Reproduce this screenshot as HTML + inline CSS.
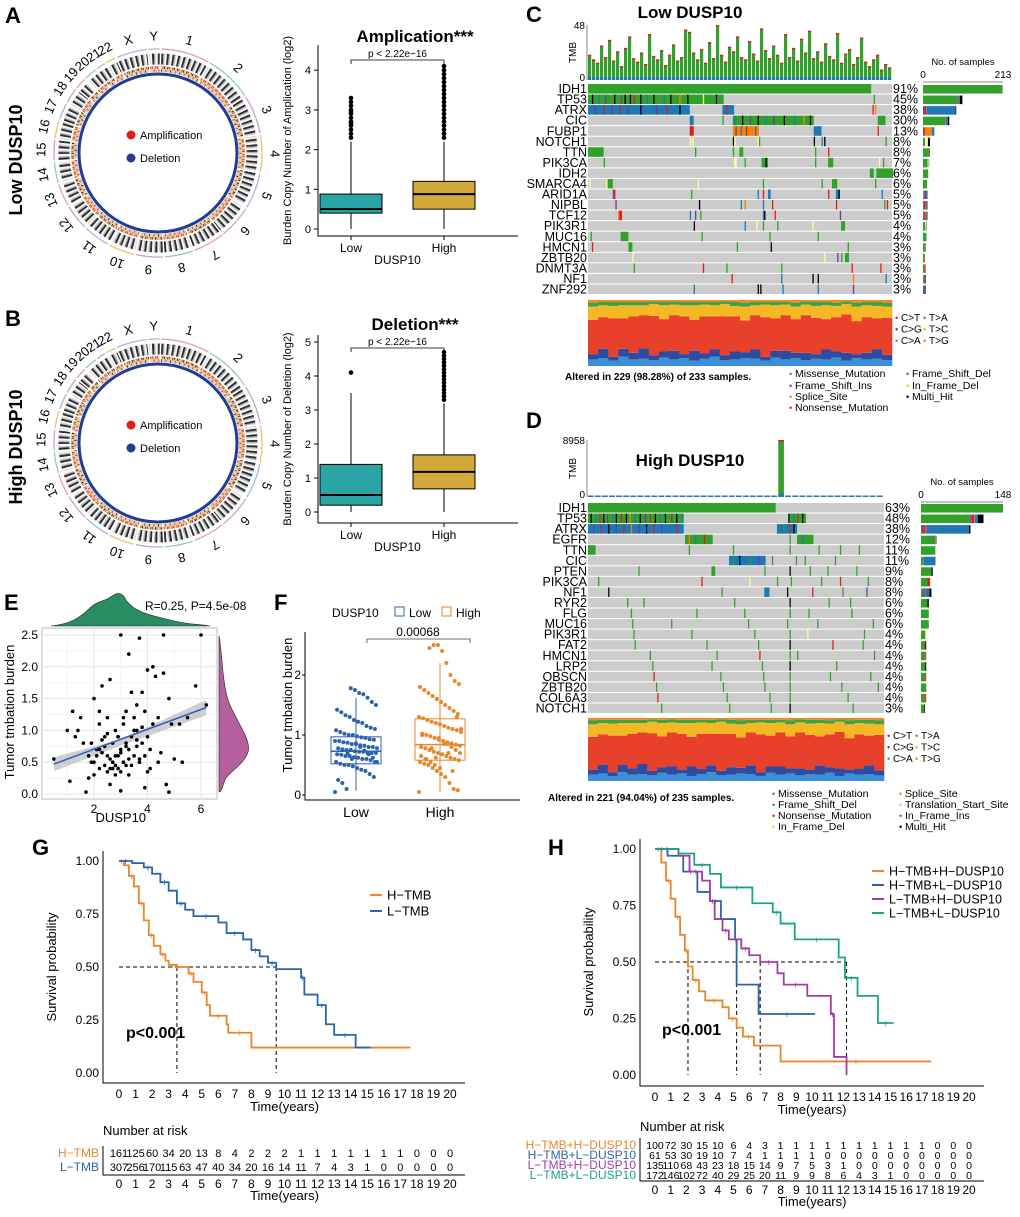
<!DOCTYPE html>
<html><head><meta charset="utf-8"><style>
html,body{margin:0;padding:0;background:#fff;}
svg{display:block;font-family:"Liberation Sans",Arial,sans-serif;}
</style></head><body>
<svg id="fig" width="1020" height="1217" viewBox="0 0 1020 1217" xmlns="http://www.w3.org/2000/svg"></svg>
<script>
// ================= DATA =================
const chrNames=['1','2','3','4','5','6','7','8','9','10','11','12','13','14','15','16','17','18','19','20','21','22','X','Y'];
const chrLen=[249,242,198,190,181,171,159,145,138,134,135,133,114,107,102,90,83,80,59,64,47,51,156,57];

const ampLowStats=[0,0.4,0.5,0.88,2.2];
const ampHighStats=[0,0.5,0.88,1.2,2.2];
const ampLowOut=[2.3,2.4,2.5,2.6,2.65,2.7,2.8,2.9,2.95,3.0,3.1,3.2,3.3];
const ampHighOut=[2.3,2.4,2.5,2.6,2.7,2.8,2.9,3.0,3.1,3.2,3.3,3.4,3.5,3.6,3.7,3.8,3.9,4.0,4.1];
const delLowStats=[0,0.2,0.5,1.4,3.5];
const delHighStats=[0,0.68,1.18,1.68,3.2];
const delLowOut=[4.1];
const delHighOut=[3.3,3.4,3.5,3.6,3.7,3.8,3.9,4.0,4.1,4.2,4.3,4.4,4.5,4.6,4.7];

const geneC=['IDH1','TP53','ATRX','CIC','FUBP1','NOTCH1','TTN','PIK3CA','IDH2','SMARCA4','ARID1A','NIPBL','TCF12','PIK3R1','MUC16','HMCN1','ZBTB20','DNMT3A','NF1','ZNF292'];
const pctC=[91,45,38,30,13,8,8,7,6,6,5,5,5,4,4,3,3,3,3,3];
const segC=['0-216M','0-103M,3H,8D,13I,20H,25I,28H,32H,35N,40H,45D,50H,58D,63H,70S,76H,88F,98H,219M','0-77D,5I,12N,18I,24N,30I,40H,52I,60N,70H,103-111D,106N,218N,220S','78-80D,103M,111-172M,112D,118H,124I,130H,136D,142I,150H,158D,165S,170H,222-227M','78-80N,111-130S,113I,117D,121I,125S,128D,173-178D,222N','78F,80F,111H,112F,130F,131M,173H,179D,181H,228M','0-11M,82M,111M,116-118M,174M,184N','12M,112-113F,120M,133-137M,136H,174M,184-187M,223F,226M','216-218M,221-233M','1F,14F,15-18M,84F,134M,179M,187-190M,220M','19I,20N,79M,130D,134N,138-139D,184N,190-191D,192H,225D','21I,85H,117D,120S,134D,141N,190N,227M,229N','23S,24-25N,78D,82I,86M,134D,135H,143N,193I','81H,120D,129F,134M,145M,172F,194-196M','2M,25-30M,87M,139M,176M','3N,31-33M,114M,140H,199M','34F,181F,191I,194M,197-199M','35M,88N,106M,148M,202N,224N','110N,148D,172H,176H,203S,228D','81D,130H,132H,149D,176D,203I'];
const tmbC=[22,18,15,30,20,35,17,25,12,28,38,19,16,24,14,40,21,18,26,13,22,31,17,20,44,42,24,18,27,15,33,19,48,22,16,29,25,38,20,18,34,23,17,45,26,19,30,22,15,40,20,28,17,36,24,43,19,25,16,32,21,18,41,15,23,27,14,20,37,16,12,18,22,9,14,11];
const geneD=['IDH1','TP53','ATRX','EGFR','TTN','CIC','PTEN','PIK3CA','NF1','RYR2','FLG','MUC16','PIK3R1','FAT2','HMCN1','LRP2','OBSCN','ZBTB20','COL6A3','NOTCH1'];
const pctD=[63,48,38,12,11,11,9,8,8,6,6,6,4,4,4,4,4,4,4,3];
const segD=['0-148M','0-75M,2H,6D,9N,12H,15I,19D,22H,26N,30H,33S,37D,41H,45I,49N,53H,57D,61H,66N,70H,74D,159H,160-172M,163D,166N,170H','0-75D,4I,10N,16H,22I,28N,34S,40I,46H,52N,58I,64D,70N,150-165D,155M,160N,163H','77-98M,80S,85D,92N,160M,166-178M,170D','0-5M,80M,115M,160M,183M,200M,215M','112-140D,115M,120H,128M,135I,146M,165M,172M,196M','40M,98-100M,140M,160H,176M,190M,213M','8M,90N,128F,150M,161M,185M,200N,222M','16H,106M,140-143D,158H,178N,202M,221I','31M,44M,116M,160H,191M,208M','34M,86M,124M,160M,175M,209M','35M,66M,127M,158M,182M,226M','36M,82M,132M,160M,174F,219M','37M,94M,135M,160H,194N,218M','49M,102M,136N,160M,166M,227M','51M,98M,138M,160H,197M','52N,105M,139M,160M,192M,224M','54M,107M,140M,160M,201M,230M','55N,110M,144M,160M,206M','58M,112M,145M,160H,210M'];
const tmbD=[60,40,90,30,70,50,110,80,40,60,30,120,55,45,70,90,35,60,40,80,100,50,60,45,70,30,55,8958,60,80,40,70,90,50,30,60,45,70,40,50,30,60];
const spCA=[.10,.12,.08,.14,.10,.11,.09,.13,.10,.12,.08,.11,.14,.09,.10,.12,.11,.08,.13,.10,.12,.09,.11,.10,.13,.08,.12,.10,.11,.09];
const spCG=[.08,.14,.06,.12,.10,.16,.07,.09,.13,.06,.15,.08,.11,.07,.12,.09,.14,.06,.10,.13,.08,.11,.07,.15,.09,.12,.06,.10,.14,.08];
const spCT=[.52,.48,.58,.46,.55,.50,.60,.49,.54,.57,.47,.56,.50,.59,.53,.48,.52,.60,.49,.54,.51,.57,.55,.46,.52,.58,.50,.54,.47,.56];
const spTC=[.20,.18,.19,.20,.17,.15,.18,.21,.16,.17,.22,.18,.17,.19,.16,.21,.15,.19,.20,.16,.19,.16,.18,.21,.17,.16,.22,.18,.19,.17];
const spTA=[.06,.05,.06,.05,.05,.05,.04,.05,.05,.05,.05,.04,.05,.04,.06,.06,.05,.04,.05,.04,.06,.05,.06,.05,.05,.04,.06,.05,.06,.06];

const scX=[0.5,1.2,1.0,1.3,1.5,1.7,1.8,1.9,2.0,2.0,2.1,2.2,2.2,2.3,2.3,2.4,2.4,2.5,2.5,2.5,2.6,2.6,2.7,2.7,2.8,2.8,2.8,2.9,2.9,3.0,3.0,3.0,3.1,3.1,3.2,3.2,3.2,3.3,3.3,3.4,3.4,3.5,3.5,3.6,3.6,3.7,3.7,3.8,3.8,3.9,3.9,4.0,4.0,4.1,4.1,4.2,4.3,4.4,4.5,4.6,4.7,4.8,4.9,5.0,5.2,5.5,5.8,6.0,6.2,2.1,2.4,2.6,2.9,3.1,3.3,3.5,3.7,2.0,2.3,2.7,3.0,3.4,3.8,1.6,1.9,2.2,2.5,2.8,3.2,3.6,4.0,4.4,1.4,1.8,2.9,3.0,3.9,4.6,2.6,3.3,1.1,4.2,4.8,5.3,3.5,2.2,2.7,3.1,3.6];
const scY=[0.55,1.3,1.0,0.9,1.2,0.03,0.6,0.8,0.5,1.5,0.7,0.4,1.1,0.65,1.7,0.45,0.9,0.35,1.2,0.6,0.55,1.8,0.5,0.8,0.3,0.45,1.0,0.6,0.4,2.5,0.7,0.35,0.5,1.1,0.45,0.8,1.3,0.55,0.3,0.9,1.6,0.6,1.2,0.75,1.4,0.5,2.45,0.8,1.6,0.6,1.3,0.9,1.95,0.4,0.7,2.0,1.85,1.2,0.65,1.9,0.15,1.5,1.1,0.55,1.1,1.2,1.7,2.5,1.4,0.6,0.75,0.4,0.9,0.5,0.7,1.0,0.55,0.3,0.85,0.5,0.65,0.45,1.05,0.8,0.5,0.7,0.95,0.6,0.75,0.85,0.35,0.5,1.0,0.25,0.9,0.05,0.1,2.5,0.15,2.2,0.2,1.1,0.03,0.5,1.0,1.3,0.4,1.2,1.0,0.65];

const tmbLow=[0.05,0.3,0.35,0.4,0.42,0.45,0.48,0.5,0.5,0.52,0.55,0.55,0.58,0.6,0.6,0.62,0.63,0.65,0.65,0.67,0.68,0.7,0.7,0.7,0.72,0.72,0.73,0.75,0.75,0.76,0.78,0.78,0.8,0.8,0.82,0.83,0.85,0.85,0.87,0.88,0.9,0.9,0.92,0.93,0.95,0.96,0.98,1.0,1.0,1.02,1.05,1.08,1.1,1.12,1.15,1.2,1.22,1.25,1.3,1.33,1.38,1.42,1.5,1.55,1.62,1.68,1.7,1.75,1.78,0.1,0.2,0.25,0.55,0.62,0.68,0.74,0.8,0.86,0.6,0.7];
const tmbHigh=[0.05,0.08,0.1,0.2,0.3,0.35,0.4,0.45,0.5,0.52,0.55,0.58,0.6,0.62,0.65,0.68,0.7,0.72,0.75,0.78,0.8,0.82,0.84,0.86,0.88,0.9,0.92,0.95,0.98,1.0,1.02,1.05,1.08,1.1,1.12,1.15,1.18,1.2,1.22,1.25,1.28,1.3,1.35,1.4,1.45,1.5,1.55,1.6,1.65,1.7,1.75,1.8,1.85,1.9,2.0,2.2,2.4,2.5,2.5,2.45,0.6,0.65,0.7,0.75,0.8,0.85,0.9,0.95,0.5,0.55,0.6,1.0,1.1,1.3,0.4,0.7,0.85,0.45,0.62,0.78];
const tmbLowStats=[0.07,0.52,0.73,0.97,1.62];
const tmbHighStats=[0.05,0.58,0.84,1.27,2.2];

const kmG_HT=[0,0.3,0.6,0.9,1.2,1.5,1.8,2.1,2.5,2.8,3.0,3.5,4.2,4.5,5.0,5.3,5.5,6.5,6.6,8.0,17.6];
const kmG_HS=[1,0.98,0.93,0.88,0.8,0.72,0.65,0.6,0.56,0.53,0.51,0.5,0.47,0.43,0.38,0.32,0.27,0.23,0.19,0.12,0.12];
const kmG_LT=[0,0.8,1.5,2.0,2.5,3.0,3.5,4.0,4.5,6.0,6.5,7.5,8.0,8.5,9.0,9.5,11.0,11.2,12.0,12.5,13.0,14.3,15.2];
const kmG_LS=[1,0.99,0.97,0.94,0.9,0.86,0.8,0.77,0.74,0.71,0.66,0.63,0.58,0.55,0.52,0.49,0.45,0.37,0.32,0.23,0.18,0.12,0.12];
const riskG_H=[161,125,60,34,20,13,8,4,2,2,2,1,1,1,1,1,1,1,0,0,0];
const riskG_L=[307,256,170,115,63,47,40,34,20,16,14,11,7,4,3,1,0,0,0,0,0];

const kmH1T=[0,0.4,0.7,1.0,1.3,1.6,1.9,2.1,2.4,2.8,3.2,4.3,4.7,5.2,5.6,6.3,8.0,17.6];
const kmH1S=[1,0.94,0.86,0.78,0.7,0.62,0.55,0.48,0.42,0.37,0.33,0.3,0.25,0.21,0.17,0.13,0.06,0.06];
const kmH2T=[0,0.8,1.8,2.7,3.5,4.2,5.1,5.2,6.6,10.2];
const kmH2S=[1,0.97,0.9,0.81,0.77,0.69,0.6,0.4,0.27,0.27];
const kmH3T=[0,1.5,2.2,3.0,3.5,3.8,4.3,4.7,5.5,6.0,6.7,7.8,8.2,9.7,11.2,11.4,12.2];
const kmH3S=[1,0.97,0.9,0.86,0.77,0.69,0.64,0.6,0.56,0.53,0.5,0.45,0.4,0.35,0.27,0.08,0];
const kmH4T=[0,1.5,2.5,3.5,4.2,6.2,7.5,8.0,8.9,11.7,12.1,12.9,14.2,15.2];
const kmH4S=[1,0.98,0.93,0.89,0.83,0.76,0.72,0.67,0.6,0.52,0.43,0.35,0.23,0.23];
const riskH1=[100,72,30,15,10,6,4,3,1,1,1,1,1,1,1,1,1,1,0,0,0];
const riskH2=[61,53,30,19,10,7,4,1,1,1,1,0,0,0,0,0,0,0,0,0,0];
const riskH3=[135,110,68,43,23,18,15,14,9,7,5,3,1,0,0,0,0,0,0,0,0];
const riskH4=[172,146,102,72,40,29,25,20,11,9,9,8,6,4,3,1,0,0,0,0,0];

// ================= HELPERS =================
const NS='http://www.w3.org/2000/svg';
const svg=document.getElementById('fig');
function mk(tag,a,p){const e=document.createElementNS(NS,tag);for(const k in a)e.setAttribute(k,a[k]);(p||svg).appendChild(e);return e;}
function tx(x,y,s,a,p){const e=mk('text',Object.assign({x:x,y:y},a||{}),p);e.textContent=s;return e;}
const COL={M:'#33a02c',D:'#1f78b4',I:'#6a3d9a',S:'#ff7f00',N:'#e31a1c',F:'#ffff99',H:'#000000'};

function panelLabel(x,y,s){const t=tx(x,y,s,{'font-size':22,'font-weight':'bold'});

}

// ================= CIRCOS =================
function circos(cx,cy,id){
  const g=mk('g',{});
  
  
  const tot=chrLen.reduce((a,b)=>a+b,0),gap=1.0,avail=360-gap*24;
  let a=2;const pal=['#e8a0a0','#8fcfa8','#c8a0d0','#f0c070','#a0b8e0','#d0a0c8'];
  function pt(r,ang){const t=(ang-90)*Math.PI/180;return [cx+r*Math.cos(t),cy+r*Math.sin(t)];}
  function arc(r,a0,a1,col,w){const p0=pt(r,a0),p1=pt(r,a1);const e=mk('path',{d:`M${p0[0]},${p0[1]}A${r},${r} 0 ${a1-a0>180?1:0} 1 ${p1[0]},${p1[1]}`,fill:'none',stroke:col,'stroke-width':w},g);return e;}
  const bl=mk('circle',{cx:cx,cy:cy,r:79,fill:'none',stroke:'#1f3c99','stroke-width':3},g);
  
  chrLen.forEach((L,i)=>{
    const span=L/tot*avail,a0=a,a1=a+span;
    const o=arc(104,a0,a1,pal[i%6],1.3);
    
    const nb=Math.max(4,Math.round(L/5));
    for(let b=0;b<nb;b++){
      const b0=a0+span*b/nb,b1=a0+span*(b+1)/nb;
      const k=(b*7+i*3)%6;const col=k<2?'#1a1a1a':(k==2?'#999':(k==3?'#d0d0d0':'#f4f4f4'));
      const e=arc(94,b0,b1,col,11);
      
    }
    const bt=arc(84,a0,a1,'#e0d0a8',6);
    
    for(let b=0;b<nb;b+=2){
      const b0=a0+span*b/nb,b1=a0+span*(b+1)/nb;
      const e=arc(((b+i)%3==0)?82.5:85.5,b0,b1,(b+i)%4==0?'#111':'#e52020',2.4);
      
    }
    const mid=(a0+a1)/2,lp=pt(116,mid);
    const t=tx(lp[0],lp[1],chrNames[i],{'font-size':13,'text-anchor':'middle','dominant-baseline':'middle',transform:`rotate(${mid},${lp[0]},${lp[1]})`},g);
    
    a=a1+gap;
  });
  const d1=mk('circle',{cx:cx-27,cy:cy-18,r:4.5,fill:'#e31a1c'},g);
  
  const l1=tx(cx-18,cy-14,'Amplification',{'font-size':11},g);
  
  const d2=mk('circle',{cx:cx-27,cy:cy+5,r:4.5,fill:'#1f3c99'},g);
  
  const l2=tx(cx-18,cy+9,'Deletion',{'font-size':11},g);
  
}

// ================= BOXPLOT (A,B) =================
function boxCN(o){
  const g=mk('g',{});
  
  
  const y=v=>o.y0-v*o.k;
  const ax=mk('path',{d:`M${o.xa},${o.yt}V${o.yb}H${o.xr}`,stroke:'#000',fill:'none','stroke-width':1},g);
  
  for(let v=0;v<=o.max;v++){
    const tk=mk('line',{x1:o.xa-4,x2:o.xa,y1:y(v),y2:y(v),stroke:'#000'},g);
    
    const tl=tx(o.xa-7,y(v)+4,String(v),{'font-size':11,'text-anchor':'end'},g);
    
  }
  [[o.low,o.lowOut,o.cx[0],'Low'],[o.high,o.highOut,o.cx[1],'High']].forEach(([s,out,c,lab])=>{
    const w=31;
    const wh=mk('line',{x1:c,x2:c,y1:y(s[0]),y2:y(s[4]),stroke:'#000'},g);
    
    const bx=mk('rect',{x:c-w,y:y(s[3]),width:2*w,height:y(s[1])-y(s[3]),fill:o.col[lab=='Low'?0:1],stroke:'#000'},g);
    
    const md=mk('line',{x1:c-w,x2:c+w,y1:y(s[2]),y2:y(s[2]),stroke:'#000','stroke-width':2},g);
    
    out.forEach(v=>{const p=mk('circle',{cx:c,cy:y(v),r:2.3,fill:'#000'},g);
      });
    const tk=mk('line',{x1:c,x2:c,y1:o.yb,y2:o.yb+4,stroke:'#000'},g);
    
    const tl=tx(c,o.yb+16,lab,{'font-size':12,'text-anchor':'middle'},g);
    
  });
  const xt=tx((o.cx[0]+o.cx[1])/2,o.yb+28,'DUSP10',{'font-size':12,'text-anchor':'middle'},g);
  
  const yt=tx(0,0,o.ytitle,{'font-size':11,'text-anchor':'middle',transform:`translate(${o.xa-27},${(o.yt+o.yb)/2}) rotate(-90)`},g);
  
  const tt=tx(415,o.titleY,o.title,{'font-size':17,'font-weight':'bold','text-anchor':'middle'},g);
  
  const br=mk('path',{d:`M${o.cx[0]},${o.titleY+22}v-4H${o.cx[1]}v4`,fill:'none',stroke:'#000','stroke-width':0.8},g);
  
  const pv=tx((o.cx[0]+o.cx[1])/2,o.titleY+15,'p < 2.22e\u221216',{'font-size':10,'text-anchor':'middle'},g);
  
}

// ================= ONCOPLOT =================
function oncoplot(o){
  const g=mk('g',{});
  
  
  const cw=(o.x1-o.x0)/o.ncol;
  const tt=tx(o.titleX,o.titleY,o.title,{'font-size':17,'font-weight':'bold','text-anchor':'middle'},g);
  
  const tmax=Math.max(...o.tmb);const bw=(o.x1-o.x0)/o.tmb.length;
  o.tmb.forEach((v,i)=>{
    const h=(o.tmbBot-o.tmbTop)*v/tmax;const hh=Math.max(h,1.5);
    const b=mk('rect',{x:o.x0+i*bw,y:o.tmbBot-hh,width:bw*0.8,height:hh,fill:'#33a02c'},g);
    
    const b2=mk('rect',{x:o.x0+i*bw,y:o.tmbBot-Math.min(hh,3),width:bw*0.8,height:Math.min(hh,3),fill:'#1f78b4'},g);
    
    if(h>6){const b3=mk('rect',{x:o.x0+i*bw,y:o.tmbBot-hh,width:bw*0.8,height:1.5,fill:'#e31a1c'},g);
    }
  });
  const ta=mk('line',{x1:o.x0-1,x2:o.x0-1,y1:o.tmbTop,y2:o.tmbBot,stroke:'#888'},g);
  
  const t1=tx(o.x0-3,o.tmbTop+4,String(o.tmbMaxLabel),{'font-size':10,'text-anchor':'end'},g);
  
  const t0=tx(o.x0-3,o.tmbBot+1,'0',{'font-size':10,'text-anchor':'end'},g);
  
  const tl=tx(0,0,'TMB',{'font-size':10,'text-anchor':'middle',transform:`translate(${o.x0-12},${(o.tmbTop+o.tmbBot)/2}) rotate(-90)`},g);
  
  o.genes.forEach((gn,r)=>{
    const yy=o.matTop+r*o.rowH;
    const bg=mk('rect',{x:o.x0,y:yy,width:o.x1-o.x0,height:o.rowH-1,fill:'#cccccc'},g);
    
    const counts={};
    o.segs[r].split(',').forEach(s=>{
      const m=s.match(/^(\d+)(?:-(\d+))?([A-Z])$/);const a=+m[1],b=m[2]?+m[2]:a,t=m[3];
      counts[t]=(counts[t]||0)+(b-a+1);
      const c=mk('rect',{x:o.x0+a*cw,y:yy,width:(b-a+1)*cw,height:o.rowH-1,fill:COL[t]},g);
      
    });
    const gl=tx(o.x0-1,yy+o.rowH-1.5,gn,{'font-size':12.5,'text-anchor':'end'},g);
    
    const pl=tx(o.x1+1,yy+o.rowH-1.5,o.pct[r]+'%',{'font-size':12.5},g);
    
    const n=o.pct[r]/100*o.ncol;const tot=Object.values(counts).reduce((a,b)=>a+b,0);
    let sx=o.sideX0;const full=(o.sideX1-o.sideX0)*n/o.sideMax;
    ['M','I','N','S','D','F','H'].forEach(t=>{if(!counts[t])return;const w=full*counts[t]/tot;
      const sb=mk('rect',{x:sx,y:yy+1,width:w,height:o.rowH-2,fill:COL[t]},g);
      sx+=w;});
  });
  const sa=mk('line',{x1:o.sideX0,x2:o.sideX1,y1:o.sideAxisY,y2:o.sideAxisY,stroke:'#888'},g);
  
  const s0=tx(o.sideX0,o.sideAxisY-4,'0',{'font-size':10,'text-anchor':'middle'},g);
  
  const s1=tx(o.sideX1,o.sideAxisY-4,String(o.sideMax),{'font-size':10,'text-anchor':'middle'},g);
  
  const st=tx((o.sideX0+o.sideX1)/2,o.sideAxisY-17,'No. of samples',{'font-size':9.5,'text-anchor':'middle'},g);
  
  const sw=(o.x1-o.x0)/spCT.length;const H=o.spBot-o.spTop;
  const layers=[[spCA,'#3a8fd6'],[spCG,'#2d4ca0'],[spCT,'#e8402a'],[spTC,'#f4b824'],[spTA,'#3aa34a']];
  for(let i=0;i<spCT.length;i++){
    let yb=o.spBot;
    layers.forEach(([arr,col])=>{const h=arr[i]*H;
      const r=mk('rect',{x:o.x0+i*sw,y:yb-h,width:sw+0.3,height:h,fill:col},g);
      yb-=h;});
    const rr=mk('rect',{x:o.x0+i*sw,y:o.spTop,width:sw+0.3,height:yb-o.spTop,fill:'#f08a1c'},g);
    
  }
  [['C>T','#e31a1c','T>A','#33a02c'],['C>G','#2d4ca0','T>C','#f4b824'],['C>A','#3a8fd6','T>G','#ff7f00']].forEach((row,i)=>{
    const yy=o.spTop+21+i*11.5;
    const a=tx(o.x1+3,yy,'\u2022',{'font-size':9,fill:row[1]},g);
    const b=tx(o.x1+9,yy,row[0],{'font-size':10},g);
    const c=tx(o.x1+31,yy,'\u2022',{'font-size':9,fill:row[3]},g);
    const d=tx(o.x1+37,yy,row[2],{'font-size':10},g);
  });
  const al=tx(o.altX,o.altY,o.altered,{'font-size':10,'font-weight':'bold'},g);
  
  o.legend.forEach(([x,y,lab,col])=>{
    const m=tx(x-6,y,'\u2022',{'font-size':9,fill:col},g);
    const t=tx(x,y,lab,{'font-size':10.5},g);
  });
}

// ================= SCATTER E =================
function scatterE(){
  const g=mk('g',{});
  
  
  const X=v=>40.5+v*26.75, Y=v=>794-v*63.6;
  const bg=mk('rect',{x:42,y:628,width:175,height:171,fill:'#fff',stroke:'#bbb'},g);
  
  for(let v=0;v<=2.5;v+=0.25){const l=mk('line',{x1:42,x2:217,y1:Y(v),y2:Y(v),stroke:(v*2)%1==0?'#e6e6e6':'#f3f3f3'},g);}
  for(let v=1;v<=6;v++){const l=mk('line',{x1:X(v),x2:X(v),y1:628,y2:799,stroke:v%2==0?'#e6e6e6':'#f3f3f3'},g);}
  const band=mk('path',{d:`M${X(0.5)},${Y(0.58)}L${X(3.0)},${Y(0.86)}L${X(6.2)},${Y(1.48)}L${X(6.2)},${Y(1.24)}L${X(3.0)},${Y(0.76)}L${X(0.5)},${Y(0.36)}Z`,fill:'#bbbbbb',opacity:0.7},g);
  
  scX.forEach((x,i)=>{const p=mk('circle',{cx:X(x),cy:Y(scY[i]),r:1.8,fill:'#000'},g);});
  const rl=mk('line',{x1:X(0.5),y1:Y(0.47),x2:X(6.2),y2:Y(1.36),stroke:'#2b5fb8','stroke-width':1.5},g);
  
  [0,0.5,1,1.5,2,2.5].forEach(v=>{const t=tx(38,Y(v)+4,v.toFixed(1),{'font-size':12,'text-anchor':'end'},g);});
  [2,4,6].forEach(v=>{const t=tx(X(v),813,String(v),{'font-size':12,'text-anchor':'middle'},g);});
  const xt=tx(X(3),822,'DUSP10',{'font-size':13,'text-anchor':'middle'},g);
  const yt=tx(0,0,'Tumor tmbation burden',{'font-size':13,'text-anchor':'middle',transform:'translate(14,712) rotate(-90)'},g);
  const td=mk('path',{d:'M51,626C70,624 80,618 90,608C98,600 105,602 112,596C118,592 122,592 126,600C134,612 150,615 170,620C190,625 200,624 210,626Z',fill:'#2a8c63',stroke:'#222','stroke-width':0.6},g);
  
  const rd=mk('path',{d:'M219,636C222,650 222,680 228,700C235,720 252,740 248,752C244,764 232,770 226,778C222,786 222,792 219,792Z',fill:'#b5609a',stroke:'#222','stroke-width':0.6},g);
  
  const rt=tx(145,610,'R=0.25, P=4.5e-08',{'font-size':12},g);
}

// ================= BOX F =================
function boxF(){
  const g=mk('g',{});
  
  
  const Y=v=>795-v*60;const cols=['#2b64ad','#e8862a'];const cx=[356,440];
  const ax=mk('path',{d:'M305,632V800H520',fill:'none',stroke:'#000'},g);
  [0,1,2].forEach(v=>{const t=tx(301,Y(v)+4,String(v),{'font-size':12,'text-anchor':'end'},g);
    const k=mk('line',{x1:302,x2:305,y1:Y(v),y2:Y(v),stroke:'#000'},g);});
  [[tmbLowStats,tmbLow,0,'Low'],[tmbHighStats,tmbHigh,1,'High']].forEach(([s,pts,i,lab])=>{
    const c=cx[i];const w=25;
    const wh=mk('line',{x1:c,x2:c,y1:Y(s[0]),y2:Y(s[4]),stroke:cols[i]},g);
    const bx=mk('rect',{x:c-w,y:Y(s[3]),width:2*w,height:Y(s[1])-Y(s[3]),fill:'none',stroke:cols[i]},g);
    const md=mk('line',{x1:c-w,x2:c+w,y1:Y(s[2]),y2:Y(s[2]),stroke:cols[i],'stroke-width':1.5},g);
    pts.forEach((v,j)=>{const jx=((j*37)%41-20)*1.05;const p=mk('circle',{cx:c+jx,cy:Y(v),r:2,fill:cols[i]},g);});
    const t=tx(c,817,lab,{'font-size':14,'text-anchor':'middle'},g);
  });
  const yt=tx(0,0,'Tumor tmbation burden',{'font-size':13,'text-anchor':'middle',transform:'translate(292,705) rotate(-90)'},g);
  const br=mk('path',{d:'M367,643v-4H470v4',fill:'none',stroke:'#444','stroke-width':0.8},g);
  const pv=tx(418,636,'0.00068',{'font-size':12,'text-anchor':'middle'},g);
  const lt=tx(332,617,'DUSP10',{'font-size':12},g);
  [[395,'Low',0],[442,'High',1]].forEach(([x,l,i])=>{
    const k=mk('rect',{x:x,y:607,width:9,height:9,fill:'none',stroke:cols[i]},g);
    const t=tx(x+14,617,l,{'font-size':12},g);
  });
}

// ================= KM =================
function km(o){
  const g=mk('g',{});
  
  
  const X=t=>o.x0+t*o.px, Y=s=>o.y0-s*(o.y0-o.y1);
  const ax=mk('path',{d:`M${o.xa},${o.y1-10}V${o.xb}H${X(20)+15}`,fill:'none',stroke:'#000'},g);
  [0,0.25,0.5,0.75,1].forEach(v=>{const t=tx(o.xa-4,Y(v)+4,v.toFixed(2),{'font-size':12,'text-anchor':'end'},g);});
  for(let t=0;t<=20;t++){const l=tx(X(t),o.xb+15,String(t),{'font-size':12,'text-anchor':'middle'},g);}
  const xt=tx(X(10),o.xb+28,'Time(years)',{'font-size':13,'text-anchor':'middle'},g);
  const yt=tx(0,0,'Survival probability',{'font-size':13,'text-anchor':'middle',transform:`translate(${o.xa-47},${(o.y0+o.y1)/2}) rotate(-90)`},g);
  const ml=mk('path',{d:`M${X(0)},${Y(0.5)}H${X(o.medians[o.medians.length-1])}`+o.medians.map(m=>`M${X(m)},${Y(0.5)}V${Y(0)}`).join(''),fill:'none',stroke:'#000','stroke-dasharray':'4,3'},g);
  
  o.series.forEach(([T,S,col,name])=>{
    let d=`M${X(T[0])},${Y(S[0])}`;
    for(let i=1;i<T.length;i++){d+=`H${X(T[i])}V${Y(S[i])}`;}
    const p=mk('path',{d:d,fill:'none',stroke:col,'stroke-width':1.8},g);
    
    for(let i=1;i<T.length;i+=2){const c=tx(X((T[i-1]+T[i])/2),Y(S[i-1])+4,'+',{'font-size':10,fill:col,'text-anchor':'middle'},g);}
  });
  const pv=tx(o.pX,o.pY,'p<0.001',{'font-size':16,'font-weight':'bold'},g);
  o.series.forEach(([T,S,col,name],i)=>{
    const yy=o.legY+i*o.legDy;
    const l=mk('line',{x1:o.legX,x2:o.legX+12,y1:yy,y2:yy,stroke:col,'stroke-width':2},g);
    const t=tx(o.legX+17,yy+4.5,name,{'font-size':o.legFs},g);
  });
  const nt=tx(o.xa,o.riskTitleY,'Number at risk',{'font-size':13},g);
  o.risk.forEach((arr,r)=>{
    const yy=o.riskY+r*o.riskDy;
    const lb=tx(o.xa-4,yy+4,o.series[r][3],{'font-size':o.riskLabFs,fill:o.series[r][2],'text-anchor':'end'},g);
    arr.forEach((n,t)=>{const c=tx(X(t),yy+4,String(n),{'font-size':o.riskFs,'text-anchor':'middle'},g);});
  });
  const ra=mk('path',{d:`M${o.xa},${o.riskY-7}V${o.riskAxis}H${X(20)+15}`,fill:'none',stroke:'#000'},g);
  for(let t=0;t<=20;t++){const l=tx(X(t),o.riskAxis+13,String(t),{'font-size':12,'text-anchor':'middle'},g);}
  const rx=tx(X(10),o.riskAxis+25,'Time(years)',{'font-size':13,'text-anchor':'middle'},g);
}

// ================= BUILD =================
panelLabel(5,23,'A');panelLabel(5,326,'B');panelLabel(526,22,'C');panelLabel(526,428,'D');
panelLabel(4,610,'E');panelLabel(274,610,'F');panelLabel(32,855,'G');panelLabel(548,855,'H');
[['Low DUSP10',160],['High DUSP10',447]].forEach(([s,y])=>{const t=tx(0,0,s,{'font-size':18,'font-weight':'bold','text-anchor':'middle',transform:`translate(22,${y}) rotate(-90)`});
  });
circos(158,153,'low');circos(158,443,'high');
boxCN({id:'amplification',xa:318,yt:45,yb:236,xr:518,y0:229,k:39.7,max:4,cx:[351,444],low:ampLowStats,high:ampHighStats,lowOut:ampLowOut,highOut:ampHighOut,col:['#2aa4a4','#d2aa3c'],ytitle:'Burden Copy Number of Amplication (log2)',title:'Amplication***',titleY:42});
boxCN({id:'deletion',xa:318,yt:335,yb:523,xr:518,y0:512,k:34,max:5,cx:[351,444],low:delLowStats,high:delHighStats,lowOut:delLowOut,highOut:delHighOut,col:['#2aa4a4','#d2aa3c'],ytitle:'Burden Copy Number of Deletion (log2)',title:'Deletion***',titleY:330});
oncoplot({id:'low-dusp10',title:'Low DUSP10',titleX:690,titleY:18,x0:588,x1:892,ncol:233,tmb:tmbC,tmbMaxLabel:48,tmbTop:25,tmbBot:80,matTop:84,rowH:10.55,genes:geneC,pct:pctC,segs:segC,sideX0:923,sideX1:1003,sideMax:213,sideAxisY:82,spTop:300,spBot:366,altX:565,altY:380,altered:'Altered in 229 (98.28%) of 233 samples.',
 legend:[[795,377,'Missense_Mutation','#33a02c'],[795,389,'Frame_Shift_Ins','#6a3d9a'],[795,400,'Splice_Site','#ff7f00'],[795,411,'Nonsense_Mutation','#e31a1c'],[912,377,'Frame_Shift_Del','#1f78b4'],[912,389,'In_Frame_Del','#e6d200'],[912,400,'Multi_Hit','#000']]});
oncoplot({id:'high-dusp10',title:'High DUSP10',titleX:690,titleY:466,x0:588,x1:884,ncol:235,tmb:tmbD,tmbMaxLabel:8958,tmbTop:440,tmbBot:497,matTop:503,rowH:10.55,genes:geneD,pct:pctD,segs:segD,sideX0:921,sideX1:1003,sideMax:148,sideAxisY:502,spTop:718,spBot:781,altX:548,altY:801,altered:'Altered in 221 (94.04%) of 235 samples.',
 legend:[[778,797,'Missense_Mutation','#33a02c'],[778,808,'Frame_Shift_Del','#1f78b4'],[778,819,'Nonsense_Mutation','#e31a1c'],[778,830,'In_Frame_Del','#e6d200'],[905,797,'Splice_Site','#ff7f00'],[905,808,'Translation_Start_Site','#a6cee3'],[905,819,'In_Frame_Ins','#b15928'],[905,830,'Multi_Hit','#000']]});
scatterE();boxF();
km({id:'tmb',x0:119,px:16.55,y0:1073,y1:861,xa:103,xb:1083,medians:[3.5,9.5],
 series:[[kmG_HT,kmG_HS,'#e8862a','H\u2212TMB'],[kmG_LT,kmG_LS,'#2b64ad','L\u2212TMB']],
 pX:126,pY:1038,legX:370,legY:895,legDy:16,legFs:13,risk:[riskG_H,riskG_L],riskTitleY:1135,riskY:1153,riskDy:14,riskFs:11,riskLabFs:12,riskAxis:1175});
km({id:'tmb-dusp10',x0:655,px:15.7,y0:1075,y1:849,xa:640,xb:1086,medians:[2.1,5.2,6.7,12.2],
 series:[[kmH1T,kmH1S,'#e8862a','H\u2212TMB+H\u2212DUSP10'],[kmH2T,kmH2S,'#2b64ad','H\u2212TMB+L\u2212DUSP10'],[kmH3T,kmH3S,'#a43ca6','L\u2212TMB+H\u2212DUSP10'],[kmH4T,kmH4S,'#1aa38a','L\u2212TMB+L\u2212DUSP10']],
 pX:662,pY:1035,legX:872,legY:871,legDy:14,legFs:12.5,risk:[riskH1,riskH2,riskH3,riskH4],riskTitleY:1131,riskY:1145,riskDy:10,riskFs:10.5,riskLabFs:12,riskAxis:1181});
</script>
</body></html>
